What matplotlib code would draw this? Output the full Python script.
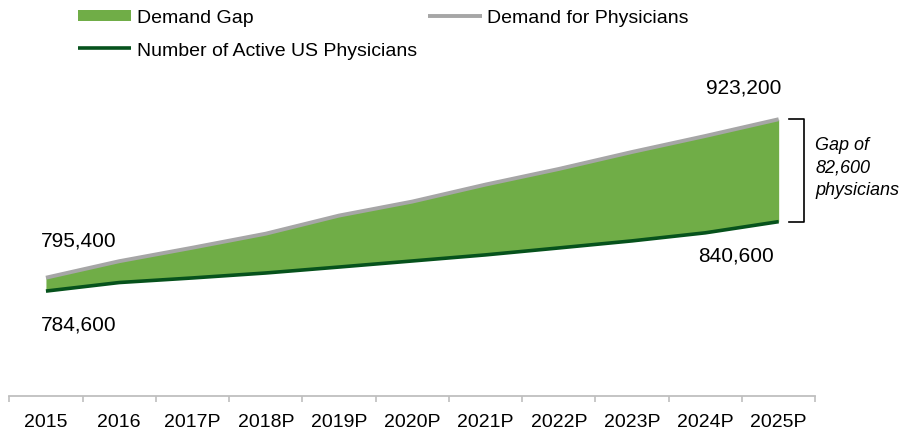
import matplotlib.pyplot as plt
import numpy as np

plt.rcParams['font.family'] = ['Liberation Sans', 'DejaVu Sans']

YEARS = ["2015", "2016", "2017P", "2018P", "2019P", "2020P",
         "2021P", "2022P", "2023P", "2024P", "2025P"]
DEMAND = [795400, 808700, 819600, 830900, 845500, 856800,
          870500, 883100, 896800, 909700, 923200]
ACTIVE = [784600, 791500, 795200, 799200, 804000, 808900,
          813800, 819400, 825100, 831600, 840600]

GREEN = '#70AD47'
DARK_GREEN = '#06521C'
GREY = '#A6A6A6'


def main():
    fig = plt.figure(figsize=(9.02, 4.31), dpi=100)
    ax = fig.add_axes([9.3 / 902, 34 / 431, 806 / 902, 310 / 431])

    x = np.arange(len(YEARS))
    gap = ax.fill_between(x, ACTIVE, DEMAND, color=GREEN, linewidth=0,
                          label='Demand Gap')
    dem, = ax.plot(x, DEMAND, color=GREY, lw=2.8, solid_capstyle='butt',
                   label='Demand for Physicians')
    act, = ax.plot(x, ACTIVE, color=DARK_GREEN, lw=2.6, solid_capstyle='butt',
                   label='Number of Active US Physicians')

    ax.set_xlim(-0.5, len(YEARS) - 0.5)
    ax.set_ylim(700000, 950000)
    for s in ['top', 'right', 'left']:
        ax.spines[s].set_visible(False)
    ax.spines['bottom'].set_color('#BFBFBF')
    ax.spines['bottom'].set_linewidth(1.3)
    ax.set_yticks([])
    ax.set_xticks(x)
    ax.set_xticklabels(YEARS, fontsize=14)
    ax.set_xticks(np.arange(len(YEARS) + 1) - 0.5, minor=True)
    ax.tick_params(axis='x', which='major', length=0, pad=12)
    ax.tick_params(axis='x', which='minor', length=4, width=1.2,
                   color='#BFBFBF', direction='out')

    # end-point labels
    def lab(i, vals, dx, dy, ha):
        ax.annotate("{:,}".format(vals[i]), (x[i], vals[i]),
                    xytext=(dx, dy), textcoords='offset pixels',
                    ha=ha, va='center', fontsize=15)

    lab(0, DEMAND, -5.5, 38, 'left')
    lab(0, ACTIVE, -5.5, -33, 'left')
    lab(-1, DEMAND, 3, 32.5, 'right')
    lab(-1, ACTIVE, -5, -33, 'right')

    # bracket for the gap
    bx = len(YEARS) - 1 + 0.34
    bw = 0.2
    ax.plot([bx - bw, bx, bx, bx - bw], [DEMAND[-1], DEMAND[-1], ACTIVE[-1], ACTIVE[-1]],
            color='black', lw=1.2, clip_on=False)
    gap_val = DEMAND[-1] - ACTIVE[-1]
    ax.text(bx + 0.16, (DEMAND[-1] + ACTIVE[-1]) / 2 + 2500,
            "Gap of\n{:,}\nphysicians".format(gap_val),
            ha='left', va='center', fontsize=13, style='italic',
            linespacing=1.42)

    fig.legend([gap, act, dem],
               ['Demand Gap', 'Number of Active US Physicians', 'Demand for Physicians'],
               ncol=2, loc='upper left', bbox_to_anchor=(76 / 902, 1 - 8 / 431),
               frameon=False, fontsize=14, handlelength=2.75,
               handleheight=0.5, handletextpad=0.3, columnspacing=0.55,
               labelspacing=0.8, borderaxespad=0, borderpad=0.1)

    plt.savefig('out.png', dpi=100)


if __name__ == '__main__':
    main()
